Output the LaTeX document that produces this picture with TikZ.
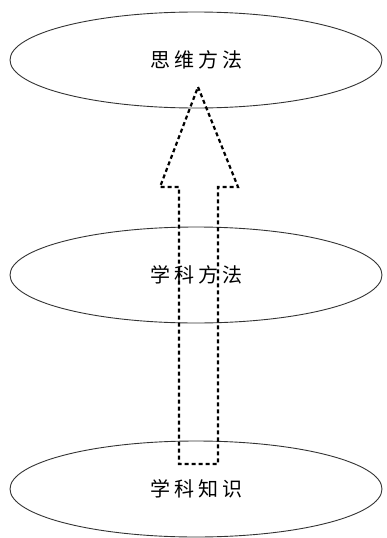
\documentclass[tikz,border=0pt]{standalone}
\usepackage{fontspec}
\newfontfamily\cjk{Noto Sans CJK SC}
\usetikzlibrary{shapes.geometric}
\begin{document}
\begin{tikzpicture}[x=1pt,y=-1pt,
  oval/.style={draw=black!80,line width=0.9pt,ellipse,minimum width=372pt,minimum height=96pt,inner sep=0pt,font=\cjk\fontsize{20}{20}\selectfont},
  arrowline/.style={draw=black,line width=2.2pt,dash pattern=on 4pt off 3pt}]
\useasboundingbox (0,0) rectangle (386,538);
\node[oval] (top) at (196,60) {思\hspace{4pt}维\hspace{4pt}方\hspace{4pt}法};
\node[oval] (mid) at (196,275) {学\hspace{4pt}科\hspace{4pt}方\hspace{4pt}法};
\node[oval] (bot) at (196,489) {学\hspace{4pt}科\hspace{4pt}知\hspace{4pt}识};
\coordinate (tip) at (198,87);
\coordinate (hl) at (160,187);
\coordinate (hr) at (238,187);
\coordinate (sl) at (179,187);
\coordinate (sr) at (218,187);
\coordinate (bl) at (179,464);
\coordinate (br) at (218,464);
\draw[arrowline] (tip) -- (hr) -- (sr) -- (br) -- (bl) -- (sl) -- (hl) -- cycle;
\end{tikzpicture}
\end{document}
